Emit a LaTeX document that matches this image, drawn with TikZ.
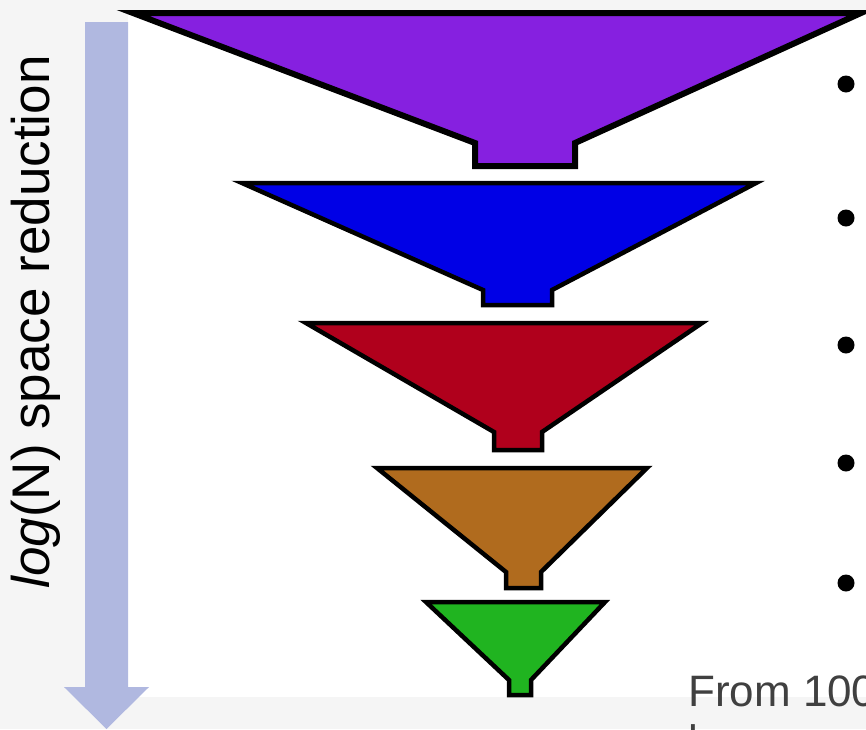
\documentclass[tikz,border=0pt]{standalone}
\usepackage{fontspec}
\setmainfont{Liberation Sans}
\definecolor{bggray}{HTML}{F5F5F5}
\definecolor{arrowblue}{HTML}{B0B8E0}
\definecolor{fpurple}{HTML}{8620E0}
\definecolor{fblue}{HTML}{0000E6}
\definecolor{fred}{HTML}{B0001C}
\definecolor{fbrown}{HTML}{B06B1E}
\definecolor{fgreen}{HTML}{20B420}
\definecolor{textgray}{HTML}{404040}
\newcommand{\drawfunnel}[9]{%
  % #1 name, #2 colour, #3 left x, #4 right x, #5 top y, #6 shoulder y, #7 neck left x, #8 neck right x, #9 bottom y
  \path[funnelbox, fill=#2] (#3,#5) -- (#4,#5) -- (#8,#6) -- (#8,#9) -- (#7,#9) -- (#7,#6) -- cycle;
  \coordinate (#1) at ({(#3+#4)/2},#5);
}
\begin{document}
\begin{tikzpicture}[x=1pt,y=-1pt,
  funnelbox/.style={draw=black, line width=4.5pt, line join=miter},
  bulletdot/.style={fill=black},
  sidelabel/.style={rotate=90, font=\fontsize{53}{60}\selectfont, inner sep=0pt},
  notetext/.style={anchor=base west, text=textgray, font=\fontsize{44}{50}\selectfont, inner sep=0pt}]
\useasboundingbox (0,0) rectangle (866,729);
\begin{scope}
\clip (0,0) rectangle (866,729);
\fill[bggray] (0,0) rectangle (866,729);
\fill[white] (128,15) rectangle (866,697);
% arrow
\fill[arrowblue] (85,22) -- (128,22) -- (128,687) -- (149,687) -- (106.5,729) -- (64,687) -- (85,687) -- cycle;
\node[sidelabel] (lbl) at (36,322) {\textit{log}(N) space reduction};
% funnels
\begin{scope}[funnelbox/.append style={line width=6pt}]
\drawfunnel{f1}{fpurple}{133}{861}{13}{143}{475}{575}{166}
\end{scope}
\drawfunnel{f2}{fblue}{242}{756}{183}{290}{483}{552}{305}
\drawfunnel{f3}{fred}{306}{702}{323}{432}{494}{542}{450}
\drawfunnel{f4}{fbrown}{377}{647}{468}{572}{506}{541}{588}
\drawfunnel{f5}{fgreen}{426}{605}{602}{680}{509}{531}{695}
% bullets
\fill[bulletdot] (846,84) circle (8.5);
\fill[bulletdot] (846,218) circle (8.5);
\fill[bulletdot] (846,345) circle (8.5);
\fill[bulletdot] (846,463) circle (8.5);
\fill[bulletdot] (846,583) circle (8.5);
% note text
\node[notetext] (note1) at (688,706) {From 1000};
\node[notetext] (note2) at (688,756) {lower cost};
\end{scope}
\end{tikzpicture}
\end{document}
